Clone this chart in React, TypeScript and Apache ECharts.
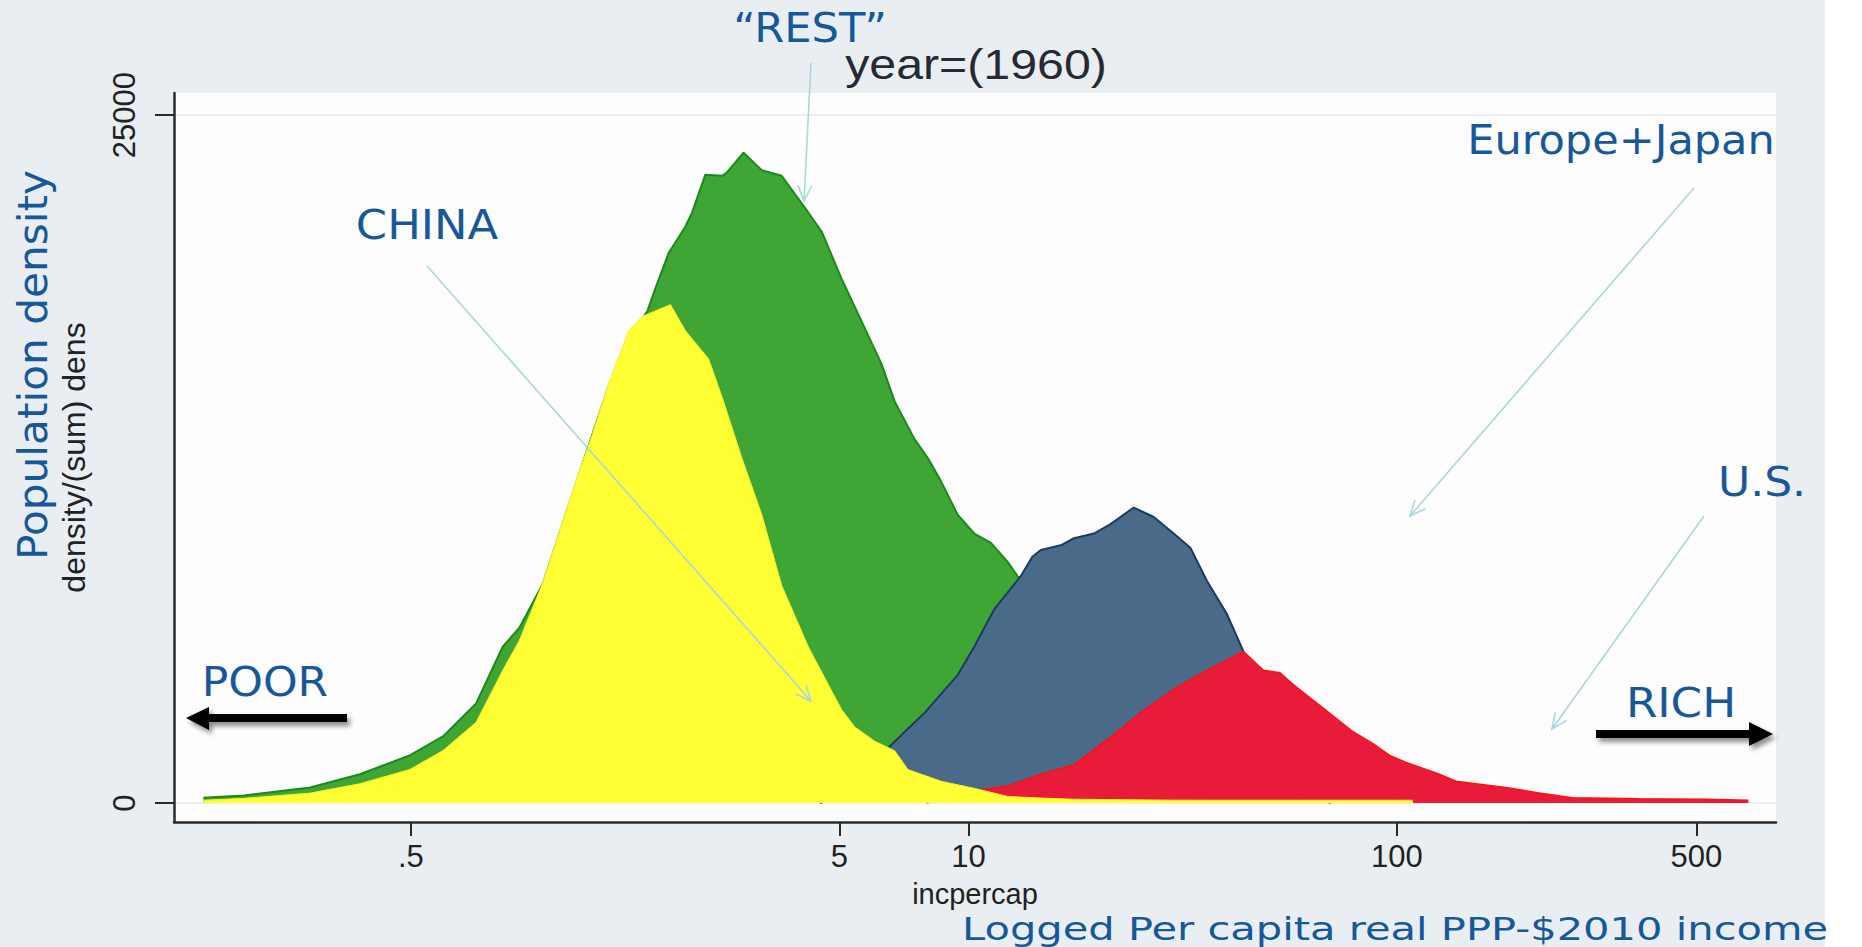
import React, { useEffect, useRef } from "react";
import * as echarts from "echarts";

// x: income per capita (log scale), y: population density
const incomeTicks = [0.5, 5, 10, 100, 500];
const densityTicks = [0, 25000];

const restIncome = [0.164, 0.204, 0.291, 0.38, 0.497, 0.594, 0.71, 0.819, 0.895, 1.015, 1.213, 1.45, 1.733, 1.78, 1.861, 1.999, 2.185, 2.265, 2.432, 2.66, 2.733, 2.987, 3.295, 3.667, 4.156, 4.545, 5.058, 5.63, 6.266, 6.729, 7.487, 8.043, 8.64, 9.44, 10.32, 11.29, 12.35, 13.02, 14.76, 17.64, 20];
const restDensity = [190, 275, 566, 1046, 1732, 2418, 3620, 5677, 6363, 7950, 11600, 15200, 17600, 17853, 18711, 19997, 20940, 21455, 22827, 22793, 22912, 23633, 22998, 22793, 21626, 20769, 19054, 17510, 15967, 14595, 13223, 12537, 11680, 10479, 9793, 9450, 8764, 8250, 7000, 4000, 2000];

const euroJapanIncome = [4.5, 5.058, 5.63, 6.045, 6.493, 7.225, 7.901, 9.44, 10.32, 11.5, 13.26, 14.1, 14.76, 16.43, 17.64, 19.63, 21.47, 24.32, 27.08, 30.13, 32.96, 36.02, 40.09, 43.85, 48.8, 53.37, 60, 70];
const euroJapanDensity = [0, 300, 900, 1500, 1989, 2700, 3276, 4648, 5677, 7049, 8250, 8950, 9192, 9364, 9621, 9793, 10136, 10736, 10393, 9793, 9278, 8078, 6877, 5505, 3500, 2000, 600, 0];

const usIncome = [8, 9, 10.32, 12.35, 14.76, 17.64, 21.09, 25.21, 30.13, 36.02, 43.85, 48.8, 53.37, 57.3, 67.29, 79.02, 87.95, 96.2, 105.1, 125.7, 137.4, 179.6, 214.7, 256.6, 366.8, 524, 661];
const usDensity = [0, 250, 446, 617, 1046, 1389, 2300, 3276, 4133, 4820, 5505, 4820, 4733, 4305, 3447, 2590, 2161, 1732, 1475, 1046, 789, 566, 360, 189, 154, 137, 103];

const chinaIncome = [0.164, 0.204, 0.291, 0.38, 0.497, 0.594, 0.71, 0.819, 0.895, 1.015, 1.213, 1.326, 1.45, 1.613, 1.733, 2.017, 2.185, 2.476, 2.66, 2.961, 3.295, 3.667, 4.231, 4.71, 5.058, 5.433, 6.045, 6.729, 7.225, 8.64, 10.32, 12.35, 14.76, 17.64, 30.13, 60, 100, 109];
const chinaDensity = [100, 170, 360, 700, 1218, 1904, 2933, 4820, 5900, 7990, 11680, 13394, 15281, 17167, 17682, 18110, 17167, 16138, 14766, 12537, 10479, 7906, 5677, 4305, 3400, 2761, 2247, 1900, 1218, 789, 532, 240, 180, 137, 103, 100, 100, 100];

const BLUE_TEXT = "#17589a";
const ARROW = "#a9d8dd";

function pts(inc: number[], den: number[]) {
  return inc.map((v, i) => [Math.log10(v), den[i]]);
}

function fmtIncome(v: number) {
  const inc = Math.pow(10, v);
  if (inc < 1) return "." + Math.round(inc * 10);
  return String(Math.round(inc));
}

function pointer(x1: number, y1: number, x2: number, y2: number) {
  const a = Math.atan2(y2 - y1, x2 - x1);
  const len = 17;
  const ang = 0.42;
  return [
    { type: "line", silent: true, z: 50, shape: { x1, y1, x2, y2 }, style: { stroke: ARROW, lineWidth: 1.6 } },
    {
      type: "polyline",
      silent: true,
      z: 50,
      shape: {
        points: [
          [x2 - len * Math.cos(a - ang), y2 - len * Math.sin(a - ang)],
          [x2, y2],
          [x2 - len * Math.cos(a + ang), y2 - len * Math.sin(a + ang)],
        ],
      },
      style: { stroke: ARROW, lineWidth: 1.6, fill: null },
    },
  ];
}

function label(text: string, x: number, y: number, size: number, opts: any = {}) {
  return {
    type: "text",
    silent: true,
    z: 60,
    x,
    y,
    rotation: opts.rotation || 0,
    scaleX: opts.scaleX || 1.1,
    style: {
      text,
      fontSize: size,
      fontFamily: opts.family || "DejaVu Sans",
      fill: opts.color || BLUE_TEXT,
      align: opts.align || "center",
      textAlign: opts.align || "center",
      verticalAlign: "middle",
      textVerticalAlign: "middle",
    },
  };
}

const shadow = { shadowBlur: 5, shadowOffsetX: 3, shadowOffsetY: 4, shadowColor: "rgba(0,0,0,0.45)" };

export default function App() {
  const ref = useRef<HTMLDivElement>(null);
  useEffect(() => {
    if (!ref.current) return;
    const chart = echarts.init(ref.current, null, { renderer: "svg" });
    const areaSeries = (name: string, inc: number[], den: number[], fill: string, stroke: string, lw: number, z: number) => ({
      name,
      type: "line",
      data: pts(inc, den),
      showSymbol: false,
      symbol: "none",
      smooth: false,
      silent: true,
      lineStyle: { color: stroke, width: lw },
      areaStyle: { color: fill, opacity: 1 },
      z,
    });
    chart.setOption({
      animation: false,
      backgroundColor: "#ffffff",
      graphic: {
        elements: [
          { type: "rect", silent: true, z: -10, shape: { x: 0, y: 0, width: 1825, height: 947 }, style: { fill: "#e9eef2" } },
          label("year=(1960)", 976, 65, 42, { family: "Liberation Sans", color: "#262a33", scaleX: 1.15 }),
          label("\u201cREST\u201d", 810, 28, 40, { scaleX: 1.08 }),
          label("CHINA", 427, 225, 40, { scaleX: 1.12 }),
          label("Europe+Japan", 1621, 140, 41, { scaleX: 1.05 }),
          label("U.S.", 1718, 482, 40, { align: "left" }),
          label("POOR", 265, 682, 40),
          label("RICH", 1681, 703, 40, { scaleX: 1.13 }),
          label("Population density", 33, 365, 41, { rotation: Math.PI / 2, scaleX: 1.03 }),
          label("Logged Per capita real PPP-$2010 income", 962, 929, 32, { align: "left", scaleX: 1.3 }),
          ...pointer(811, 63, 804, 201),
          ...pointer(427, 266, 811, 701),
          ...pointer(1694, 188, 1410, 516),
          ...pointer(1704, 516, 1552, 729),
          {
            type: "polygon",
            silent: true,
            z: 50,
            shape: { points: [[347, 714], [209, 714], [209, 707], [186, 718], [209, 730], [209, 722], [347, 722]] },
            style: { fill: "#000", ...shadow },
          },
          {
            type: "polygon",
            silent: true,
            z: 50,
            shape: { points: [[1596, 730], [1749, 730], [1749, 722], [1773, 734], [1749, 746], [1749, 738], [1596, 738]] },
            style: { fill: "#000", ...shadow },
          },
        ],
      },
      grid: {
        left: 174,
        right: 86,
        top: 93,
        bottom: 125,
        show: true,
        backgroundColor: "#fdfdfd",
        borderWidth: 0,
        containLabel: false,
        outerBoundsMode: "none",
      },
      xAxis: {
        type: "value",
        min: Math.log10(0.14),
        max: Math.log10(767),
        name: "incpercap",
        nameLocation: "middle",
        nameGap: 57,
        nameMoveOverlap: false,
        nameTextStyle: { fontSize: 29, fontFamily: "Liberation Sans", color: "#222" },
        axisLine: { show: true, onZero: false, lineStyle: { color: "#2a2a2a", width: 2.5 } },
        axisTick: { show: true, inside: false, length: 14, customValues: incomeTicks.map((v) => Math.log10(v)), lineStyle: { color: "#2a2a2a", width: 2 } },
        axisLabel: {
          show: true,
          customValues: incomeTicks.map((v) => Math.log10(v)),
          formatter: fmtIncome,
          fontSize: 31,
          fontFamily: "Liberation Sans",
          color: "#222",
          margin: 19,
        },
        splitLine: { show: false },
        z: 20,
      },
      yAxis: {
        type: "value",
        min: -690,
        max: 25800,
        name: "density/(sum) dens",
        nameLocation: "middle",
        nameGap: 84,
        nameMoveOverlap: false,
        nameTextStyle: { fontSize: 32, fontFamily: "Liberation Sans", color: "#222" },
        axisLine: { show: true, onZero: false, lineStyle: { color: "#2a2a2a", width: 2.5 } },
        axisTick: { show: true, inside: false, length: 19, customValues: densityTicks, lineStyle: { color: "#2a2a2a", width: 2 } },
        axisLabel: {
          show: true,
          customValues: densityTicks,
          formatter: (v: number) => String(v),
          rotate: 90,
          fontSize: 31,
          fontFamily: "Liberation Sans",
          color: "#222",
          margin: 34,
        },
        splitLine: { show: true, lineStyle: { color: "#eceff2", width: 2 } },
      },
      series: [
        areaSeries("REST", restIncome, restDensity, "#3fa636", "#1b8a1b", 2, 3),
        areaSeries("Europe+Japan", euroJapanIncome, euroJapanDensity, "#4a6a8a", "#1c3c5e", 2, 4),
        areaSeries("U.S.", usIncome, usDensity, "#e81b3a", "#ff1010", 1.5, 5),
        areaSeries("CHINA", chinaIncome, chinaDensity, "#ffff33", "#f4f42a", 1, 6),
      ],
    });
    return () => chart.dispose();
  }, []);
  return <div ref={ref} style={{ position: "absolute", left: 0, top: 0, width: 1862, height: 947 }} />;
}
